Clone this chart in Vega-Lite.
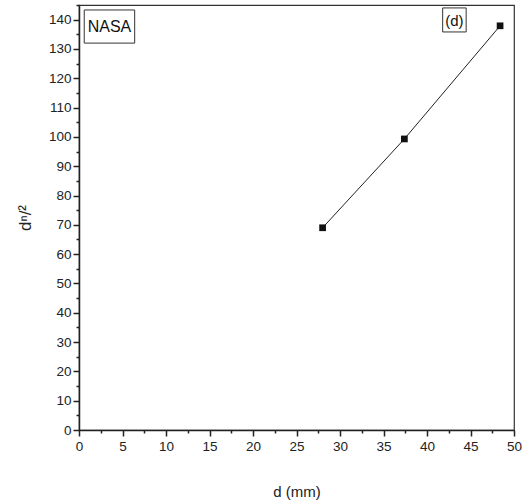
{
  "$schema": "https://vega.github.io/schema/vega-lite/v6.json",
  "autosize": "none",
  "width": 435,
  "height": 425,
  "padding": {"left": 79, "top": 5, "right": 12, "bottom": 73},
  "background": "white",
  "config": {
    "view": {"stroke": "#333", "strokeWidth": 1.2},
    "font": "Liberation Sans",
    "axis": {"grid": false, "domainColor": "#222", "domainWidth": 1.5, "tickColor": "#222", "tickWidth": 1.5, "labelColor": "#222", "titleFontWeight": "normal", "titleColor": "#222", "labelFont": "Liberation Sans", "titleFont": "Liberation Sans"}
  },
  "datasets": {
    "pts": [
      {"d": 28.0, "v": 69.0},
      {"d": 37.4, "v": 99.3},
      {"d": 48.4, "v": 137.9}
    ],
    "boxes": [
      {"d": 0.6, "d2": 6.4, "v": 132.0, "v2": 143.3},
      {"d": 41.8, "d2": 44.5, "v": 135.8, "v2": 144.0}
    ],
    "labels": [
      {"d": 3.5, "v": 137.4, "label": "NASA", "size": 16},
      {"d": 43.15, "v": 139.6, "label": "(d)", "size": 15}
    ]
  },
  "encoding": {
    "x": {"field": "d", "type": "quantitative", "scale": {"domain": [0, 50], "nice": false},
      "axis": {"title": "d (mm)", "titlePadding": 32, "titleFontSize": 15, "labelFontSize": 13.5, "labelOverlap": false, "labelFlush": false,
        "values": [0,2.5,5,7.5,10,12.5,15,17.5,20,22.5,25,27.5,30,32.5,35,37.5,40,42.5,45,47.5,50],
        "labelExpr": "datum.value % 5 === 0 ? datum.label : ''",
        "tickSize": {"condition": {"test": "datum.value % 5 === 0", "value": 6}, "value": 3},
        "labelPadding": 3}},
    "y": {"field": "v", "type": "quantitative", "scale": {"domain": [0, 145], "nice": false},
      "axis": {"title": "dⁿ/²", "titlePadding": 14, "titleFontSize": 17, "labelFontSize": 13.5, "labelOverlap": false, "labelFlush": false,
        "values": [0,5,10,15,20,25,30,35,40,45,50,55,60,65,70,75,80,85,90,95,100,105,110,115,120,125,130,135,140,145],
        "labelExpr": "datum.value % 10 === 0 ? datum.label : ''",
        "tickSize": {"condition": {"test": "datum.value % 10 === 0", "value": 6}, "value": 3},
        "labelPadding": 2}}
  },
  "layer": [
    {
      "data": {"name": "pts"},
      "mark": {"type": "line", "color": "#222", "strokeWidth": 1}
    },
    {
      "data": {"name": "pts"},
      "mark": {"type": "point", "shape": "square", "filled": true, "color": "#111", "size": 45, "opacity": 1}
    },
    {
      "data": {"name": "boxes"},
      "mark": {"type": "rect", "fill": "white", "stroke": "#333", "strokeWidth": 1},
      "encoding": {
        "x2": {"field": "d2"},
        "y2": {"field": "v2"}
      }
    },
    {
      "data": {"name": "labels"},
      "mark": {"type": "text", "color": "#111", "font": "Liberation Sans", "baseline": "middle", "align": "center"},
      "encoding": {
        "text": {"field": "label"},
        "size": {"field": "size", "type": "quantitative", "scale": null}
      }
    }
  ]
}
